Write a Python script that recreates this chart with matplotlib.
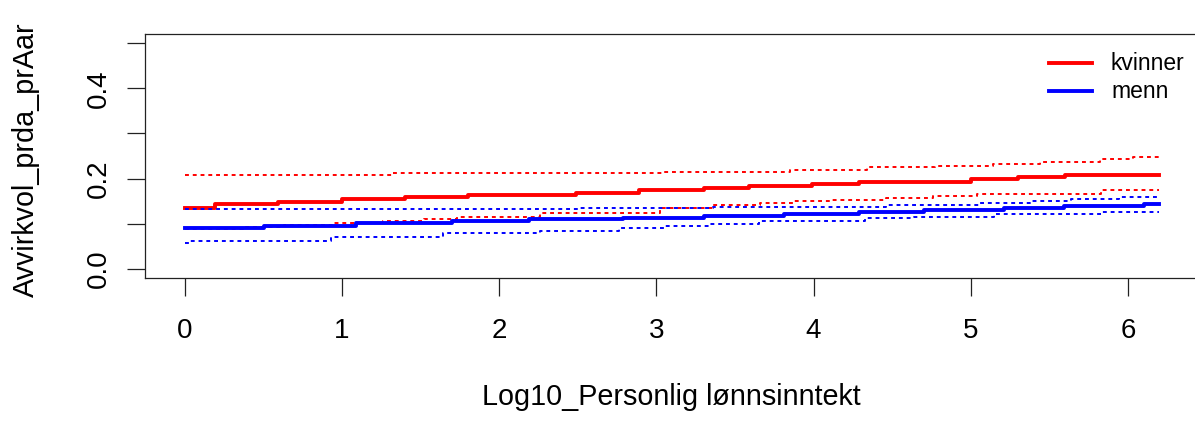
import numpy as np
import matplotlib
matplotlib.use("Agg")
import matplotlib.pyplot as plt

plt.rcParams['font.family'] = ['Liberation Sans', 'DejaVu Sans']

# step breakpoints (x where each level starts) and levels, last x = end of data
x_end = 6.2

kv_x = [0, 0.19, 0.59, 1.00, 1.40, 1.80, 2.19, 2.49, 2.89, 3.30, 3.59, 3.99, 4.29, 4.69, 5.00, 5.30, 5.60, 5.90]
kv_y = [0.1355, 0.1429, 0.1489, 0.154, 0.159, 0.1645, 0.1645, 0.169, 0.174, 0.179, 0.1846, 0.189, 0.1926, 0.1926, 0.198, 0.203, 0.208, 0.209]

kv_hi_x = [0, 1.32, 3.05, 3.85, 4.34, 4.77, 5.14, 5.44, 5.82, 6.03]
kv_hi_y = [0.2076, 0.2113, 0.215, 0.220, 0.2247, 0.228, 0.2321, 0.2373, 0.2433, 0.2485]

kv_lo_x = [0, 0.37, 0.63, 0.94, 1.26, 1.52, 1.73, 2.26, 3.02, 3.36, 3.66, 3.87, 4.12, 4.46, 4.76, 5.04, 5.83]
kv_lo_y = [0.0885, 0.0937, 0.0975, 0.101, 0.1056, 0.111, 0.116, 0.124, 0.1355, 0.1406, 0.146, 0.1496, 0.153, 0.158, 0.161, 0.1667, 0.174]

me_x = [0, 0.50, 1.09, 1.70, 2.19, 2.79, 3.30, 3.81, 4.29, 4.70, 5.21, 5.59, 6.10]
me_y = [0.090, 0.096, 0.101, 0.1056, 0.110, 0.113, 0.118, 0.122, 0.127, 0.1295, 0.1346, 0.1384, 0.143]

me_hi_x = [0, 2.50, 3.36, 4.46, 5.05, 5.38, 5.64, 5.94]
me_hi_y = [0.133, 0.136, 0.138, 0.1406, 0.146, 0.1496, 0.154, 0.159]

me_lo_x = [0, 0.03, 0.93, 1.64, 2.26, 2.76, 3.05, 3.34, 3.65, 4.33, 4.64, 5.15, 5.83]
me_lo_y = [0.0565, 0.0625, 0.070, 0.0788, 0.0848, 0.0908, 0.0945, 0.0997, 0.1056, 0.1123, 0.116, 0.122, 0.1257]

legend_labels = ["kvinner", "menn"]
x_ticks = [0, 1, 2, 3, 4, 5, 6]
y_ticks = [0.0, 0.1, 0.2, 0.3, 0.4, 0.5]
y_ticklabels = ["0.0", "", "0.2", "", "0.4", ""]


def steps(xs, ys):
    return np.append(xs, x_end), np.append(ys, ys[-1])


W, H = 1195, 423
fig = plt.figure(figsize=(W / 100, H / 100), dpi=100)
px_per_x = 157.17
x0, x1 = -0.254, 6.44
ax = fig.add_axes([145 / W, 1 - 278 / H, (x1 - x0) * px_per_x / W, (278 - 34) / H])

dots = (0, (2, 2))
ax.step(*steps(kv_x, kv_y), where='post', color='red', lw=2.8)
ax.step(*steps(kv_hi_x, kv_hi_y), where='post', color='red', lw=1.4, linestyle=dots)
ax.step(*steps(kv_lo_x, kv_lo_y), where='post', color='red', lw=1.4, linestyle=dots)
ax.step(*steps(me_x, me_y), where='post', color='blue', lw=2.8)
ax.step(*steps(me_hi_x, me_hi_y), where='post', color='blue', lw=1.4, linestyle=dots)
ax.step(*steps(me_lo_x, me_lo_y), where='post', color='blue', lw=1.4, linestyle=dots)

ax.set_xlim(x0, x1)
ax.set_ylim(-0.02, 0.52)
ax.set_xticks(x_ticks)
ax.set_yticks(y_ticks)
ax.set_yticklabels(y_ticklabels, rotation=90, va='center')
ax.tick_params(length=13, width=0.9, labelsize=20, color='#222222')
ax.tick_params(axis='x', pad=16)
ax.tick_params(axis='y', pad=11)
for s in ax.spines.values():
    s.set_linewidth(0.9)
    s.set_color('#222222')

ax.set_xlabel("Log10_Personlig lønnsinntekt", fontsize=20.7, labelpad=28)
fig.text(26 / W, 1 - 160 / H, "Avvirkvol_prda_prAar", rotation=90, fontsize=20.7,
         ha='center', va='center')

# legend
for i, (lab, col) in enumerate(zip(legend_labels, ['red', 'blue'])):
    yy = 1 - (63 + 28 * i) / H
    fig.add_artist(plt.Line2D([1049 / W, 1092 / W], [yy, yy], color=col, lw=2.8))
    fig.text(1111 / W, yy, lab, fontsize=16.5, va='center', ha='left')

fig.savefig("out.png", dpi=100)
